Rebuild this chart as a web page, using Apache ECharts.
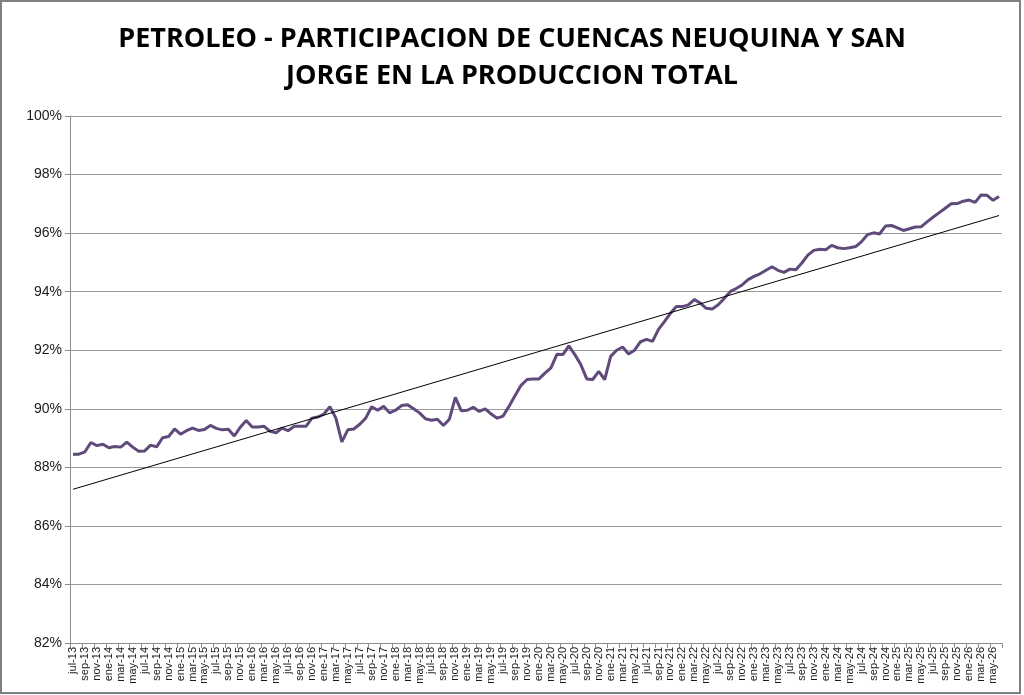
<!DOCTYPE html>
<html>
<head>
<meta charset="utf-8">
<script src="https://cdn.jsdelivr.net/npm/echarts@6/dist/echarts.min.js"></script>
<style>
html,body{margin:0;padding:0;background:#fff;}
#chart{width:1024px;height:695px;}
</style>
</head>
<body>
<div id="chart"></div>
<script>
const titleText = "PETROLEO - PARTICIPACION DE CUENCAS NEUQUINA Y SAN\nJORGE EN LA PRODUCCION TOTAL";

const categories = [
"jul-13","ago-13","sep-13","oct-13","nov-13","dic-13",
"ene-14","feb-14","mar-14","abr-14","may-14","jun-14","jul-14","ago-14","sep-14","oct-14","nov-14","dic-14",
"ene-15","feb-15","mar-15","abr-15","may-15","jun-15","jul-15","ago-15","sep-15","oct-15","nov-15","dic-15",
"ene-16","feb-16","mar-16","abr-16","may-16","jun-16","jul-16","ago-16","sep-16","oct-16","nov-16","dic-16",
"ene-17","feb-17","mar-17","abr-17","may-17","jun-17","jul-17","ago-17","sep-17","oct-17","nov-17","dic-17",
"ene-18","feb-18","mar-18","abr-18","may-18","jun-18","jul-18","ago-18","sep-18","oct-18","nov-18","dic-18",
"ene-19","feb-19","mar-19","abr-19","may-19","jun-19","jul-19","ago-19","sep-19","oct-19","nov-19","dic-19",
"ene-20","feb-20","mar-20","abr-20","may-20","jun-20","jul-20","ago-20","sep-20","oct-20","nov-20","dic-20",
"ene-21","feb-21","mar-21","abr-21","may-21","jun-21","jul-21","ago-21","sep-21","oct-21","nov-21","dic-21",
"ene-22","feb-22","mar-22","abr-22","may-22","jun-22","jul-22","ago-22","sep-22","oct-22","nov-22","dic-22",
"ene-23","feb-23","mar-23","abr-23","may-23","jun-23","jul-23","ago-23","sep-23","oct-23","nov-23","dic-23",
"ene-24","feb-24","mar-24","abr-24","may-24","jun-24","jul-24","ago-24","sep-24","oct-24","nov-24","dic-24",
"ene-25","feb-25","mar-25","abr-25","may-25","jun-25","jul-25","ago-25","sep-25","oct-25","nov-25","dic-25",
"ene-26","feb-26","mar-26","abr-26","may-26","jun-26"
];

const participacion = [
88.45,88.45,88.53,88.85,88.74,88.79,
88.67,88.71,88.69,88.86,88.69,88.55,88.56,88.76,88.70,89.01,89.05,89.31,
89.13,89.25,89.34,89.26,89.29,89.43,89.33,89.28,89.30,89.07,89.37,89.60,
89.38,89.38,89.40,89.23,89.18,89.34,89.25,89.40,89.40,89.40,89.68,89.72,
89.82,90.07,89.68,88.87,89.28,89.31,89.47,89.68,90.07,89.95,90.09,89.86,
89.95,90.11,90.14,90.00,89.86,89.66,89.61,89.64,89.43,89.64,90.39,89.93,
89.95,90.05,89.91,90.00,89.82,89.68,89.75,90.09,90.45,90.80,91.00,91.02,
91.02,91.22,91.40,91.86,91.85,92.15,91.85,91.51,91.02,91.00,91.28,91.00,
91.79,92.00,92.11,91.87,92.00,92.29,92.37,92.30,92.71,92.98,93.26,93.49,
93.49,93.55,93.73,93.61,93.43,93.41,93.55,93.77,94.00,94.11,94.23,94.41,
94.52,94.61,94.73,94.85,94.73,94.66,94.77,94.75,94.98,95.25,95.41,95.45,
95.43,95.58,95.50,95.47,95.50,95.54,95.71,95.95,96.01,95.97,96.24,96.26,
96.18,96.09,96.15,96.21,96.22,96.39,96.55,96.70,96.85,97.00,97.01,97.09,
97.13,97.05,97.30,97.29,97.12,97.25
];

// Trend line endpoints
const trendStart = ["jul-13", 87.25];
const trendEnd = ["jun-26", 96.6];

const yMin = 82, yMax = 100, yStep = 2;

const chart = echarts.init(document.getElementById('chart'), null, {renderer:'canvas'});
chart.setOption({
  backgroundColor: '#ffffff',
  animation: false,
  title: {
    text: titleText,
    left: 'center',
    top: 16,
    textStyle: {
      fontFamily: 'Open Sans',
      fontWeight: 'bold',
      fontSize: 27,
      lineHeight: 37,
      color: '#000000'
    }
  },
  graphic: [{
    type: 'rect',
    shape: {x: 1, y: 1, width: 1019, height: 692},
    style: {fill: 'none', stroke: '#7f7f7f', lineWidth: 2},
    silent: true,
    z: 100
  }],
  grid: {left: 70, right: 22, top: 116, bottom: 52},
  xAxis: {
    type: 'category',
    data: categories,
    boundaryGap: true,
    axisLine: {show: true, lineStyle: {color: '#8c8c8c', width: 1}},
    axisTick: {show: true, interval: 1, length: 5, lineStyle: {color: '#8c8c8c'}},
    axisLabel: {
      interval: 1,
      rotate: 90,
      fontFamily: 'Liberation Sans',
      fontSize: 11,
      color: '#1a1a1a',
      margin: 4
    },
    splitLine: {show: false}
  },
  yAxis: {
    type: 'value',
    min: yMin,
    max: yMax,
    interval: yStep,
    axisLine: {show: true, lineStyle: {color: '#8c8c8c', width: 1}},
    axisTick: {show: true, length: 5, lineStyle: {color: '#8c8c8c'}},
    axisLabel: {
      formatter: '{value}%',
      fontFamily: 'Liberation Sans',
      fontSize: 14,
      color: '#1a1a1a',
      margin: 8
    },
    splitLine: {show: true, lineStyle: {color: '#9a9a9a', width: 1}}
  },
  series: [
    {
      name: 'Participación',
      type: 'line',
      data: participacion,
      symbol: 'none',
      smooth: false,
      lineStyle: {color: '#604a7b', width: 3},
      z: 3
    },
    {
      name: 'Tendencia',
      type: 'line',
      data: [trendStart, trendEnd],
      symbol: 'none',
      lineStyle: {color: '#000000', width: 1},
      z: 4
    }
  ]
});
</script>
</body>
</html>
